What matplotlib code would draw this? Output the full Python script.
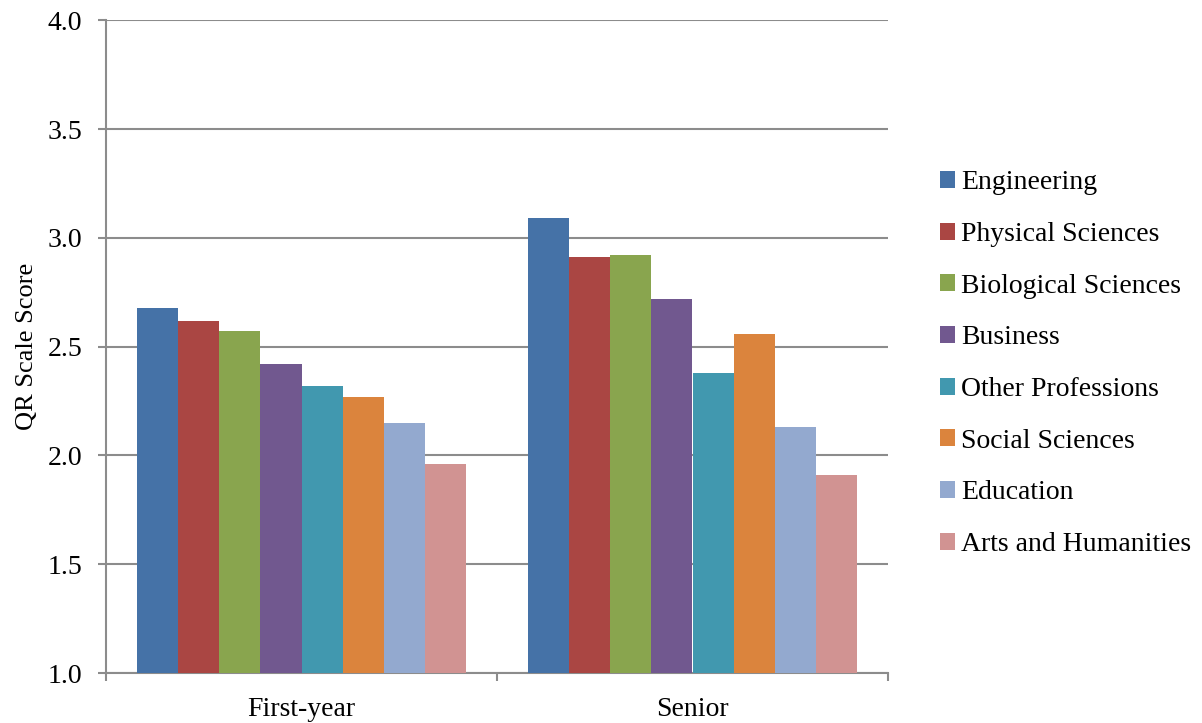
import matplotlib.pyplot as plt
import numpy as np

plt.rcParams['font.family'] = ['Liberation Serif', 'DejaVu Serif']

groups = ['First-year', 'Senior']
fields = ['Engineering', 'Physical Sciences', 'Biological Sciences', 'Business',
          'Other Professions', 'Social Sciences', 'Education', 'Arts and Humanities']
first_year = [2.68, 2.62, 2.57, 2.42, 2.32, 2.27, 2.15, 1.96]
senior = [3.09, 2.91, 2.92, 2.72, 2.38, 2.56, 2.13, 1.91]
colors = ['#4572A7', '#AA4643', '#89A54E', '#71588F',
          '#4198AF', '#DB843D', '#93A9CF', '#D19392']

values = np.array([first_year, senior])

fig = plt.figure(figsize=(12.02, 7.23), dpi=100)
ax = fig.add_axes([106 / 1202, 0.069, (888 - 106) / 1202, 0.903])

x = np.arange(len(groups))
n = len(fields)
width = 0.105
for i, name in enumerate(fields):
    offs = (i - (n - 1) / 2) * width
    ax.bar(x + offs, values[:, i], width, bottom=0, color=colors[i],
           label=name, edgecolor='none', zorder=3)

ax.set_ylim(1.0, 4.0)
ax.set_xlim(-0.5, 1.5)
ax.set_yticks(np.arange(1.0, 4.01, 0.5))
ax.set_yticklabels([f"{v:.1f}" for v in np.arange(1.0, 4.01, 0.5)])
ax.yaxis.grid(True, color='#8c8c8c', linewidth=1.5, zorder=0)

# category labels centred, tick marks at the boundaries
ax.set_xticks([-0.5, 0.5, 1.5])
ax.set_xticklabels([])
ax.set_xticks(x, minor=True)
ax.set_xticklabels(groups, minor=True, fontsize=20)
ax.tick_params(axis='x', which='minor', length=0, pad=17)
ax.tick_params(axis='x', which='major', length=6, width=1.5, color='#8c8c8c')
ax.tick_params(axis='y', length=6, width=1.5, color='#8c8c8c', labelsize=20, pad=11)

for s in ['top', 'right']:
    ax.spines[s].set_visible(False)
for s in ['left', 'bottom']:
    ax.spines[s].set_color('#8c8c8c')
    ax.spines[s].set_linewidth(1.5)

ax.set_ylabel('QR Scale Score', fontsize=19, labelpad=7)

fig.legend(loc='center left', bbox_to_anchor=(0.782, 0.497), frameon=False,
           fontsize=20, handlelength=0.55, handleheight=0.55, handletextpad=0.2,
           labelspacing=0.96, borderpad=0, borderaxespad=0)

fig.savefig('out.png', dpi=100)
